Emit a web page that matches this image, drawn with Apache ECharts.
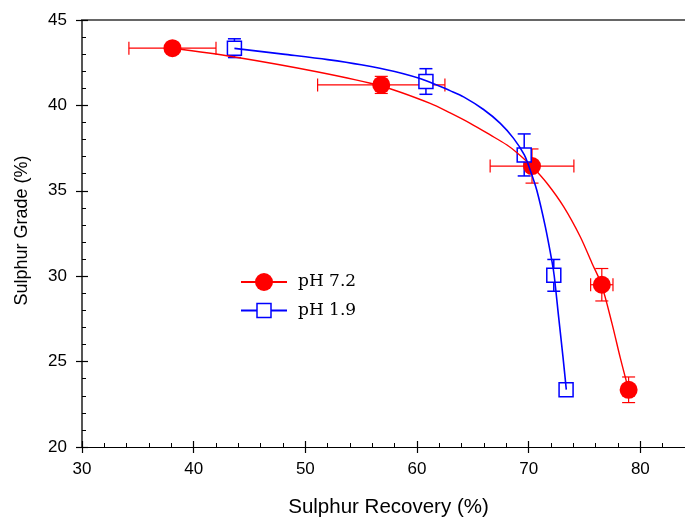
<!DOCTYPE html>
<html>
<head>
<meta charset="utf-8">
<script src="https://cdn.jsdelivr.net/npm/echarts@6/dist/echarts.min.js"></script>
<style>
html,body{margin:0;padding:0;background:#fff;}
#chart{width:685px;height:517px;}
</style>
</head>
<body>
<div id="chart"></div>
<script>
// ---- data ----
const seriesNames = ['pH 7.2', 'pH 1.9'];

// pH 7.2 measured points (red circles)
const redX    = [38.1, 56.8, 70.3, 76.55, 78.95];
const redY    = [43.35, 41.2, 36.45, 29.5, 23.35];
const redXErr = [3.9, 5.7, 3.75, 1.0, 0];
const redYErr = [0, 0.5, 1.0, 0.95, 0.75];

// pH 1.9 measured points (blue squares)
const blueX    = [43.65, 60.8, 69.6, 72.25, 73.35];
const blueY    = [43.35, 41.4, 37.1, 30.05, 23.35];
const blueXErr = [0, 0, 0, 0, 0];
const blueYErr = [0.55, 0.75, 1.23, 0.93, 0];

// fitted curves
const fitRedX = [38.06, 43.53, 51.03, 56.86, 61.18, 62.97, 64.77, 66.56, 68.06, 69.01, 70.30, 71.64, 73.13, 74.62, 75.67, 76.51, 77.46, 78.21, 78.95];
const fitRedY = [43.36, 42.85, 41.97, 41.12, 40.12, 39.56, 38.95, 38.27, 37.68, 37.20, 36.42, 35.44, 34.07, 32.31, 30.76, 29.53, 27.24, 25.20, 23.35];
const fitBlueX = [43.65, 48.0, 52.0, 55.0, 58.0, 60.82, 63.0, 64.17, 65.96, 67.46, 68.65, 69.61, 70.14, 70.74, 71.49, 72.09, 72.29, 72.68, 73.07, 73.37];
const fitBlueY = [43.34, 43.00, 42.68, 42.38, 41.98, 41.45, 40.85, 40.50, 39.76, 38.95, 38.07, 37.10, 36.20, 35.00, 32.90, 30.85, 30.01, 27.63, 25.29, 23.36];

// axis ticks
const xMajor = [30, 40, 50, 60, 70, 80];
const xMinor = [32, 34, 36, 38, 42, 44, 46, 48, 52, 54, 56, 58, 62, 64, 66, 68, 72, 74, 76, 78, 82];
const yMajor = [20, 25, 30, 35, 40, 45];
const yMinor = [21, 22, 23, 24, 26, 27, 28, 29, 31, 32, 33, 34, 36, 37, 38, 39, 41, 42, 43, 44];
const xRange = [30, 84];
const yRange = [20, 45];
const xTitle = 'Sulphur Recovery (%)';
const yTitle = 'Sulphur Grade (%)';

// ---- build ----
const RED = '#ff0000', BLUE = '#0000ff';
const zip2 = (a, b) => a.map((v, i) => [v, b[i]]);
const zip4 = (a, b, c, d) => a.map((v, i) => [v, b[i], c[i], d[i]]);

function errRender(color, lw, cap) {
  return function (params, api) {
    const x = api.value(0), y = api.value(1), xe = api.value(2), ye = api.value(3);
    const style = { stroke: color, lineWidth: lw, fill: null };
    const ch = [];
    if (xe > 0) {
      const a = api.coord([x - xe, y]), b = api.coord([x + xe, y]);
      ch.push({ type: 'line', shape: { x1: a[0], y1: a[1], x2: b[0], y2: b[1] }, style });
      ch.push({ type: 'line', shape: { x1: a[0], y1: a[1] - cap, x2: a[0], y2: a[1] + cap }, style });
      ch.push({ type: 'line', shape: { x1: b[0], y1: b[1] - cap, x2: b[0], y2: b[1] + cap }, style });
    }
    if (ye > 0) {
      const a = api.coord([x, y - ye]), b = api.coord([x, y + ye]);
      ch.push({ type: 'line', shape: { x1: a[0], y1: a[1], x2: b[0], y2: b[1] }, style });
      ch.push({ type: 'line', shape: { x1: a[0] - cap, y1: a[1], x2: a[0] + cap, y2: a[1] }, style });
      ch.push({ type: 'line', shape: { x1: b[0] - cap, y1: b[1], x2: b[0] + cap, y2: b[1] }, style });
    }
    return { type: 'group', children: ch };
  };
}

const tickFont = { fontFamily: 'Liberation Sans, Arial', fontSize: 17, color: '#000' };
const hidden = { show: false };

const chart = echarts.init(document.getElementById('chart'), null, { renderer: 'canvas' });
chart.setOption({
  animation: false,
  backgroundColor: '#fff',
  grid: { left: 82, right: 0, top: 20, bottom: 70, containLabel: false, outerBoundsMode: 'none' },
  legend: [
    {
      data: [seriesNames[0]], left: 240, top: 273, padding: 0, itemWidth: 46, itemHeight: 22.5,
      selectedMode: false,
      textStyle: { fontFamily: 'DejaVu Serif', fontSize: 17, color: '#000', padding: [0, 0, 0, 6] }
    },
    {
      data: [seriesNames[1]], left: 240, top: 302, padding: 0, itemWidth: 46, itemHeight: 17.5,
      selectedMode: false,
      itemStyle: { color: '#fff', borderColor: BLUE, borderWidth: 1.5 },
      textStyle: { fontFamily: 'DejaVu Serif', fontSize: 17, color: '#000', padding: [0, 0, 0, 6] }
    }
  ],
  xAxis: [
    {
      type: 'value', min: xRange[0], max: xRange[1], position: 'bottom',
      axisLine: { show: true, onZero: false, lineStyle: { color: '#000', width: 1.2 } },
      axisTick: { show: true, inside: false, length: 6, customValues: xMajor, lineStyle: { color: '#000', width: 1.2 } },
      axisLabel: Object.assign({ customValues: xMajor, margin: 14 }, tickFont),
      splitLine: hidden,
      name: xTitle, nameLocation: 'middle', nameGap: 50,
      nameTextStyle: { fontFamily: 'Liberation Sans, Arial', fontSize: 20.5, color: '#000', padding: [0, 0, 0, 10] }
    },
    {
      type: 'value', min: xRange[0], max: xRange[1], position: 'bottom',
      axisLine: hidden, axisLabel: hidden, splitLine: hidden,
      axisTick: { show: true, inside: true, length: 6, customValues: xMajor, lineStyle: { color: '#000', width: 1.2 } }
    },
    {
      type: 'value', min: xRange[0], max: xRange[1], position: 'bottom',
      axisLine: hidden, axisLabel: hidden, splitLine: hidden,
      axisTick: { show: true, inside: true, length: 4, customValues: xMinor, lineStyle: { color: '#000', width: 1 } }
    },
    {
      type: 'value', min: xRange[0], max: xRange[1], position: 'top',
      axisLine: { show: true, onZero: false, lineStyle: { color: '#666', width: 2 } },
      axisTick: hidden, axisLabel: hidden, splitLine: hidden
    }
  ],
  yAxis: [
    {
      type: 'value', min: yRange[0], max: yRange[1], position: 'left',
      axisLine: { show: true, onZero: false, lineStyle: { color: '#555', width: 2 } },
      axisTick: { show: true, inside: false, length: 6, customValues: yMajor, lineStyle: { color: '#000', width: 1.2 } },
      axisLabel: Object.assign({ customValues: yMajor, margin: 15 }, tickFont),
      splitLine: hidden,
      name: yTitle, nameLocation: 'middle', nameGap: 51,
      nameTextStyle: { fontFamily: 'Liberation Sans, Arial', fontSize: 18, color: '#000', padding: [0, 0, 0, 6] }
    },
    {
      type: 'value', min: yRange[0], max: yRange[1], position: 'left',
      axisLine: hidden, axisLabel: hidden, splitLine: hidden,
      axisTick: { show: true, inside: true, length: 6, customValues: yMajor, lineStyle: { color: '#000', width: 1.2 } }
    },
    {
      type: 'value', min: yRange[0], max: yRange[1], position: 'left',
      axisLine: hidden, axisLabel: hidden, splitLine: hidden,
      axisTick: { show: true, inside: true, length: 4, customValues: yMinor, lineStyle: { color: '#000', width: 1 } }
    }
  ],
  series: [
    {
      name: seriesNames[0], type: 'line', smooth: 0.3, data: zip2(fitRedX, fitRedY),
      symbol: 'circle', symbolSize: 18, showSymbol: false,
      lineStyle: { color: RED, width: 1.4 }, itemStyle: { color: RED },
      silent: true, emphasis: { disabled: true }
    },
    {
      name: 'err72', type: 'custom', data: zip4(redX, redY, redXErr, redYErr),
      renderItem: errRender(RED, 1.2, 6.5), silent: true
    },
    {
      name: 'pts72', type: 'scatter', data: zip2(redX, redY),
      symbol: 'circle', symbolSize: 18, itemStyle: { color: RED, opacity: 1 },
      silent: true, emphasis: { disabled: true }
    },
    {
      name: seriesNames[1], type: 'line', smooth: 0.3, data: zip2(fitBlueX, fitBlueY),
      symbol: 'rect', symbolSize: 14, showSymbol: false,
      lineStyle: { color: BLUE, width: 1.6 }, itemStyle: { color: BLUE },
      silent: true, emphasis: { disabled: true }
    },
    {
      name: 'err19', type: 'custom', data: zip4(blueX, blueY, blueXErr, blueYErr),
      renderItem: errRender(BLUE, 1.5, 6.5), silent: true
    },
    {
      name: 'pts19', type: 'scatter', data: zip2(blueX, blueY),
      symbol: 'rect', symbolSize: 14,
      itemStyle: { color: '#fff', borderColor: BLUE, borderWidth: 1.5, opacity: 1 },
      silent: true, emphasis: { disabled: true }
    }
  ]
});
</script>
</body>
</html>
